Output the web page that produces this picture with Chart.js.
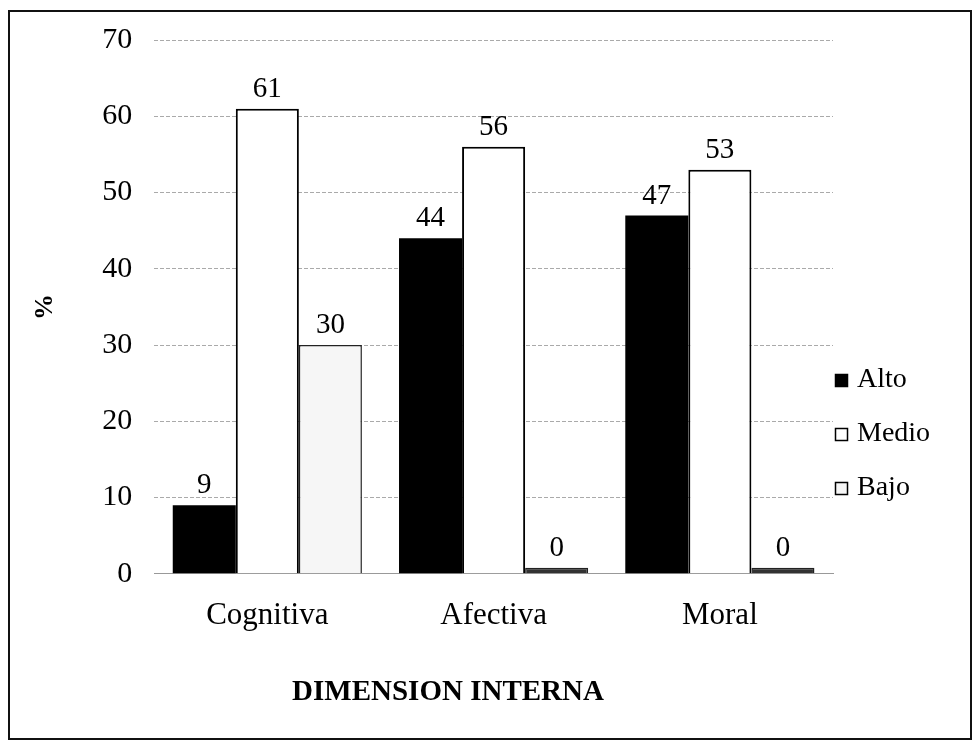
<!DOCTYPE html>
<html>
<head>
<meta charset="utf-8">
<script src="https://cdn.jsdelivr.net/npm/chart.js@4"></script>
<style>
  body { margin: 0; background: #fff; }
  #wrap { width: 980px; height: 750px; }
</style>
</head>
<body>
<div id="wrap"><canvas id="chartDimension" width="980" height="750"></canvas></div>
<script>
  // datos
  const categorias = ["Cognitiva", "Afectiva", "Moral"];
  const alto = [9, 44, 47];
  const medio = [61, 56, 53];
  const bajo = [30, 0, 0];
  const series = ["Alto", "Medio", "Bajo"];
  const colores = ["#000", "#fff", "#f6f6f6"];
  const tituloX = "DIMENSION INTERNA";

  const FONT = "'Liberation Serif', 'Times New Roman', serif";

  // marco exterior
  const marco = {
    id: "marco",
    beforeDraw(chart) {
      const c = chart.ctx;
      c.save();
      c.fillStyle = "#fff";
      c.fillRect(0, 0, chart.width, chart.height);
      c.strokeStyle = "#111";
      c.lineWidth = 2;
      c.strokeRect(9, 11, 962, 728);
      c.restore();
    },
  };

  // etiquetas de valor encima de cada barra
  const etiquetas = {
    id: "etiquetas",
    afterDatasetsDraw(chart) {
      const c = chart.ctx;
      c.save();
      c.font = "29px " + FONT;
      c.fillStyle = "#000";
      c.textAlign = "center";
      c.textBaseline = "bottom";
      chart.data.datasets.forEach((ds, i) => {
        chart.getDatasetMeta(i).data.forEach((bar, j) => {
          c.fillText(String(ds.data[j]), bar.x, bar.y - 5);
        });
      });
      c.restore();
    },
  };

  // leyenda a la derecha + título del eje x
  const leyenda = {
    id: "leyenda",
    afterDraw(chart) {
      const c = chart.ctx;
      c.save();
      c.font = "28px " + FONT;
      c.textBaseline = "middle";
      series.forEach((s, i) => {
        const y = 380 + i * 54;
        c.fillStyle = colores[i];
        c.fillRect(835, y - 6, 13, 13);
        c.strokeStyle = "#000";
        c.lineWidth = 1.5;
        c.strokeRect(835.5, y - 5.5, 12, 12);
        c.fillStyle = "#000";
        c.fillText(s, 857, y);
      });
      c.font = "bold 29px " + FONT;
      c.textAlign = "center";
      c.fillText(tituloX, 448, 693);
      c.restore();
    },
  };

  new Chart(document.getElementById("chartDimension"), {
    type: "bar",
    data: {
      labels: categorias,
      datasets: [
        { label: series[0], data: alto, backgroundColor: colores[0], borderColor: "#000", borderWidth: 0 },
        { label: series[1], data: medio, backgroundColor: colores[1], borderColor: "#000", borderWidth: 2 },
        {
          label: series[2], data: bajo,
          backgroundColor: (ctx) => (ctx.raw === 0 ? "#333" : colores[2]),
          borderColor: "#222", borderWidth: 1.5, minBarLength: 6,
        },
      ],
    },
    options: {
      responsive: false,
      animation: false,
      layout: { padding: { left: 26, right: 147, top: 19, bottom: 101 } },
      datasets: { bar: { categoryPercentage: 0.836, barPercentage: 1 } },
      plugins: { legend: { display: false }, tooltip: { enabled: false } },
      scales: {
        y: {
          min: 0,
          max: 70,
          ticks: { stepSize: 10, color: "#000", font: { family: FONT, size: 30 }, padding: 22 },
          grid: { color: "#aaa", lineWidth: 1, drawTicks: false },
          border: { display: false, dash: [4, 2] },
          title: { display: true, text: "%", color: "#000", font: { family: FONT, size: 26, weight: "bold" }, padding: { bottom: 19 } },
        },
        x: {
          ticks: { color: "#000", font: { family: FONT, size: 31 }, padding: 15 },
          grid: { display: false },
          border: { color: "#999" },
        },
      },
    },
    plugins: [marco, etiquetas, leyenda],
  });
</script>
</body>
</html>
